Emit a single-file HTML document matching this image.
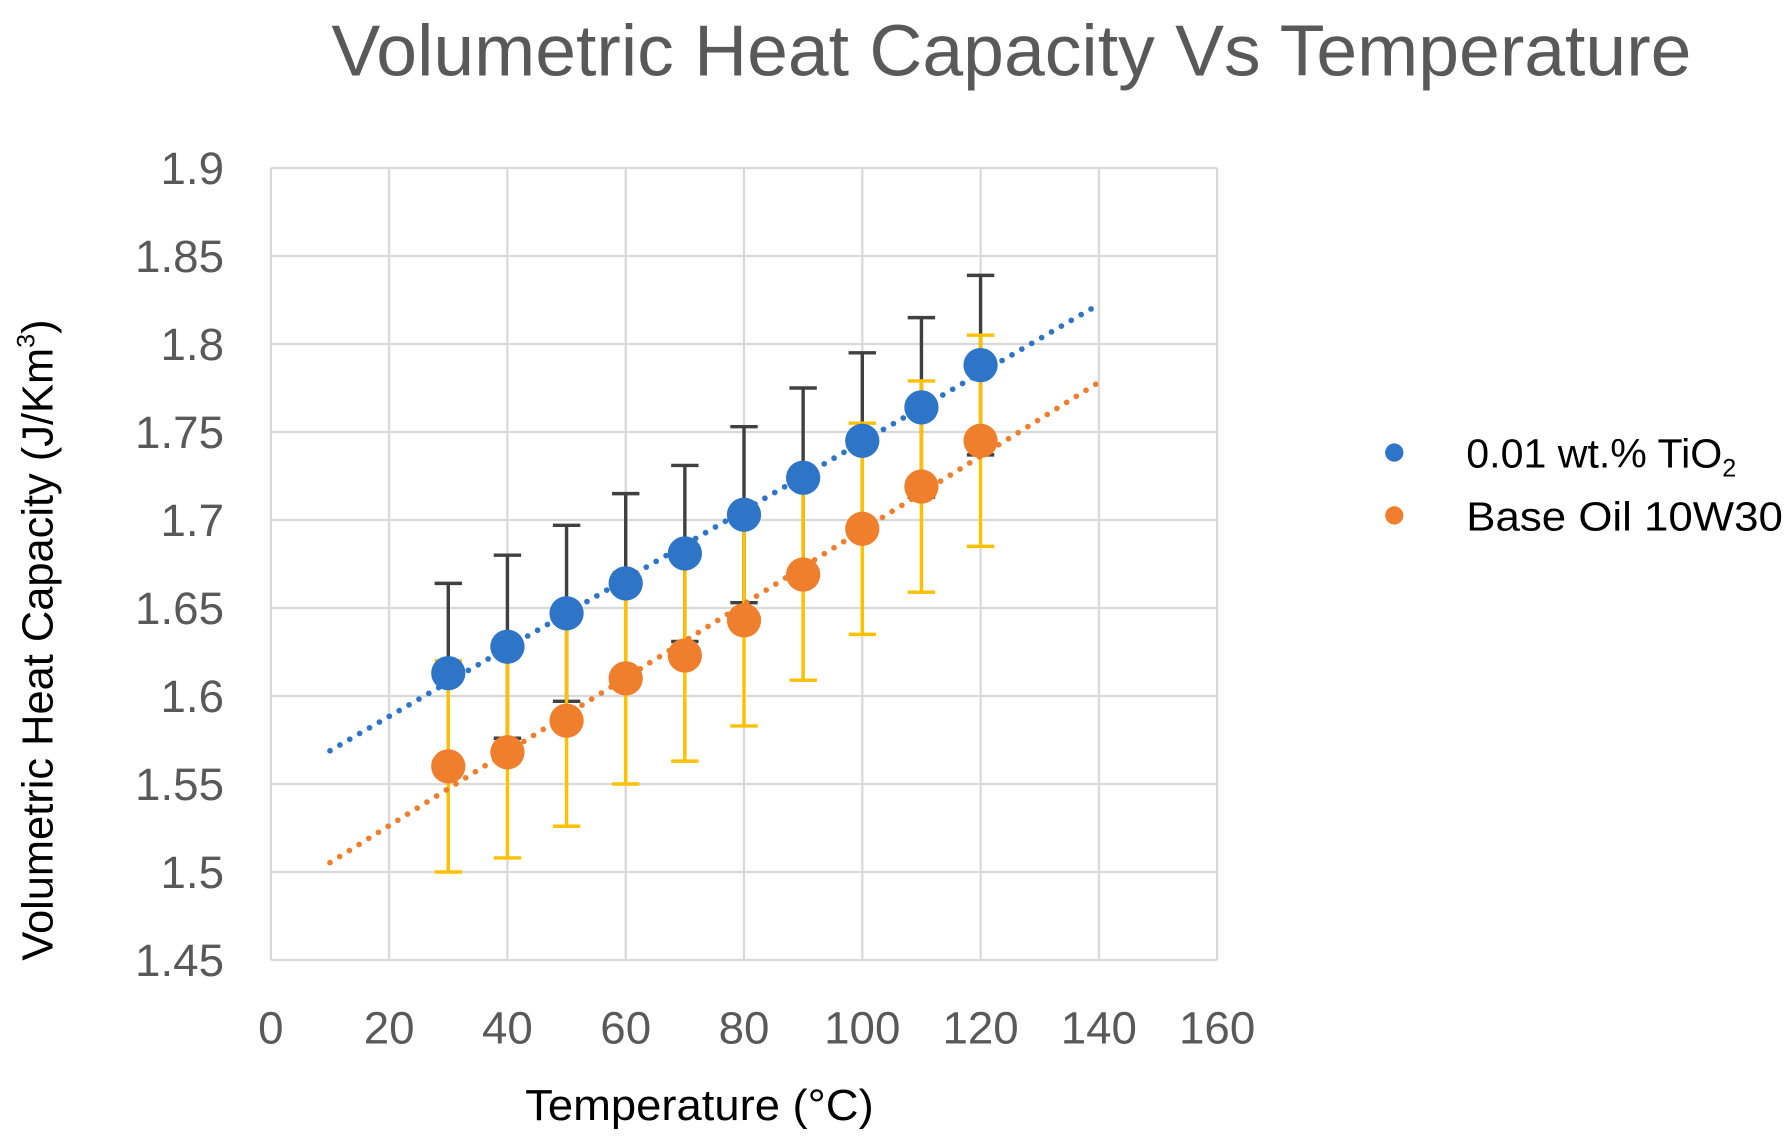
<!DOCTYPE html>
<html><head><meta charset="utf-8"><style>
html,body{margin:0;padding:0;background:#fff;}
svg{display:block;font-family:"Liberation Sans",sans-serif;}
</style></head><body>
<svg id="chart" width="1792" height="1148" viewBox="0 0 1568 1004.5" preserveAspectRatio="none">
<text x="885" y="66" text-anchor="middle" font-size="63" textLength="1190" lengthAdjust="spacingAndGlyphs" fill="#595959">Volumetric Heat Capacity Vs Temperature</text>
<g id="grid"></g>
<g id="series"></g>
<text x="612" y="980" text-anchor="middle" font-size="38" textLength="305" lengthAdjust="spacingAndGlyphs" fill="#000">Temperature (°C)</text>
<text transform="translate(46,560) rotate(-90)" text-anchor="middle" font-size="38" fill="#000">Volumetric Heat Capacity (J/Km<tspan font-size="22" dy="-16">3</tspan><tspan dy="16">)</tspan></text>
<g>
<circle cx="1220" cy="396" r="8" fill="#2E75C8"/>
<text x="1283" y="409" font-size="36" fill="#000">0.01 wt.% TiO<tspan font-size="22" dy="8">2</tspan></text>
<circle cx="1220" cy="451" r="8" fill="#F07F2D"/>
<text x="1283" y="464" font-size="36" textLength="277" lengthAdjust="spacingAndGlyphs" fill="#000">Base Oil 10W30</text>
</g>
</svg>
<script>
const temps=[30,40,50,60,70,80,90,100,110,120];
const tio2=[1.613,1.628,1.647,1.664,1.681,1.703,1.724,1.745,1.764,1.788];
const tio2Err=[0.051,0.052,0.05,0.051,0.05,0.05,0.051,0.05,0.051,0.051];
const baseOil=[1.560,1.568,1.586,1.610,1.623,1.643,1.669,1.695,1.719,1.745];
const baseErr=[0.06,0.06,0.06,0.06,0.06,0.06,0.06,0.06,0.06,0.06];
const xTicks=[0,20,40,60,80,100,120,140,160];
const yTicks=[1.45,1.5,1.55,1.6,1.65,1.7,1.75,1.8,1.85,1.9];
const trendX=[10,140];
const NS="http://www.w3.org/2000/svg";
const X0=237,X1=1065,Y0=840,Y1=147;
const xs=v=>X0+(v-0)/160*(X1-X0);
const ys=v=>Y0-(v-1.45)/0.45*(Y0-Y1);
function mk(tag,attrs,parent){const e=document.createElementNS(NS,tag);for(const k in attrs)e.setAttribute(k,attrs[k]);parent.appendChild(e);return e;}
const grid=document.getElementById('grid'),ser=document.getElementById('series');
xTicks.forEach(t=>{
 const l=mk('line',{x1:xs(t),x2:xs(t),y1:Y1,y2:Y0,stroke:'#d9d9d9','stroke-width':2},grid);
 
 
 const tx=mk('text',{x:xs(t),y:913,'text-anchor':'middle','font-size':40,fill:'#595959'},grid);
 tx.textContent=t;
 
 
});
yTicks.forEach(t=>{
 const l=mk('line',{x1:X0,x2:X1,y1:ys(t),y2:ys(t),stroke:'#d9d9d9','stroke-width':2},grid);
 
 
 const tx=mk('text',{x:196,y:ys(t)+14,'text-anchor':'end','font-size':40,fill:'#595959'},grid);
 tx.textContent=String(t);
 
 
});
function fit(xv,yv){const n=xv.length,mx=xv.reduce((a,b)=>a+b)/n,my=yv.reduce((a,b)=>a+b)/n;let sxy=0,sxx=0;for(let i=0;i<n;i++){sxy+=(xv[i]-mx)*(yv[i]-my);sxx+=(xv[i]-mx)**2;}const b=sxy/sxx;return[my-b*mx,b];}
function trend(vals,color,name){
 const [a,b]=fit(temps,vals);
 const l=mk('line',{x1:xs(trendX[0]),y1:ys(a+b*trendX[0]),x2:xs(trendX[1]),y2:ys(a+b*trendX[1]),stroke:color,'stroke-width':5,'stroke-dasharray':'0 10','stroke-linecap':'round'},ser);
 
 
}
function errs(vals,err,color,name){
 temps.forEach((t,i)=>{
  const g=mk('g',{stroke:color,'stroke-width':3},ser);
  
  
  mk('line',{x1:xs(t),x2:xs(t),y1:ys(vals[i]-err[i]),y2:ys(vals[i]+err[i])},g);
  mk('line',{x1:xs(t)-12,x2:xs(t)+12,y1:ys(vals[i]-err[i]),y2:ys(vals[i]-err[i])},g);
  mk('line',{x1:xs(t)-12,x2:xs(t)+12,y1:ys(vals[i]+err[i]),y2:ys(vals[i]+err[i])},g);
 });
}
function pts(vals,color,name){
 temps.forEach((t,i)=>{
  const c=mk('circle',{cx:xs(t),cy:ys(vals[i]),r:15,fill:color},ser);
  
  
 });
}
errs(tio2,tio2Err,'#404040','tio2-error-bar');
trend(tio2,'#2E75C8','tio2-trendline');
errs(baseOil,baseErr,'#FFC000','base-oil-error-bar');
pts(tio2,'#2E75C8','tio2-point');
trend(baseOil,'#F07F2D','base-oil-trendline');
pts(baseOil,'#F07F2D','base-oil-point');
</script>
</body></html>
